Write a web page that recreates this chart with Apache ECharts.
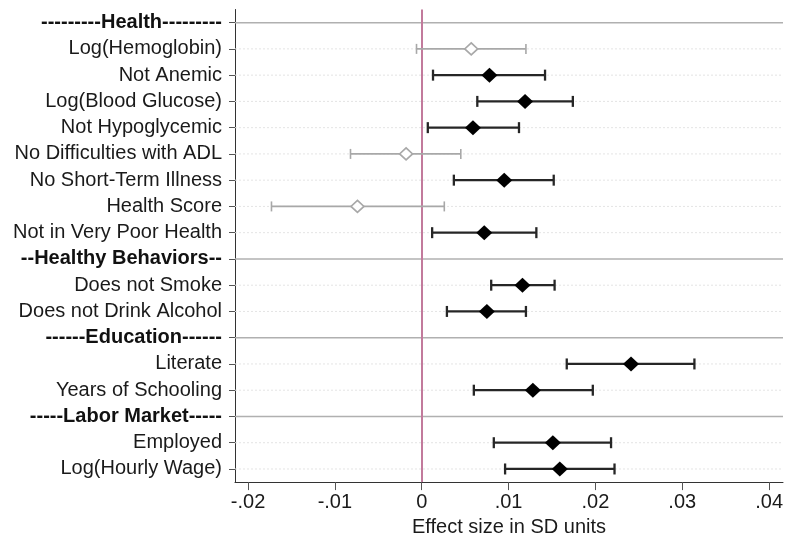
<!DOCTYPE html>
<html>
<head>
<meta charset="utf-8">
<script src="https://cdn.jsdelivr.net/npm/echarts@6/dist/echarts.min.js"></script>
<style>
html,body{margin:0;padding:0;background:#fff;}
#chart{width:792px;height:542px;}
</style>
</head>
<body>
<div id="chart"></div>
<script>
var categories = [
  '---------Health---------',
  'Log(Hemoglobin)',
  'Not Anemic',
  'Log(Blood Glucose)',
  'Not Hypoglycemic',
  'No Difficulties with ADL',
  'No Short-Term Illness',
  'Health Score',
  'Not in Very Poor Health',
  '--Healthy Behaviors--',
  'Does not Smoke',
  'Does not Drink Alcohol',
  '------Education------',
  'Literate',
  'Years of Schooling',
  '-----Labor Market-----',
  'Employed',
  'Log(Hourly Wage)'
];
var estimates = [null, 0.0057, 0.0078, 0.0119, 0.0059, -0.0018, 0.0095, -0.0074, 0.0072, null, 0.0116, 0.0075, null, 0.0241, 0.0128, null, 0.0151, 0.0159];
var lower     = [null, -0.0006, 0.0013, 0.0064, 0.0007, -0.0082, 0.0037, -0.0173, 0.0012, null, 0.0080, 0.0029, null, 0.0167, 0.0060, null, 0.0083, 0.0096];
var upper     = [null, 0.0120, 0.0142, 0.0174, 0.0112, 0.0045, 0.0152, 0.0026, 0.0132, null, 0.0153, 0.0120, null, 0.0314, 0.0197, null, 0.0218, 0.0222];
var xTicks = [-0.02, -0.01, 0, 0.01, 0.02, 0.03, 0.04];
var xTitle = 'Effect size in SD units';

var FONT = '"Liberation Sans", Arial, Helvetica, sans-serif';
var isHeader = estimates.map(function(v){ return v === null; });

var gridData = categories.map(function(c, i){ return [i, isHeader[i] ? 1 : 0]; });
var ciData = [];
var pointData = [];
categories.forEach(function(c, i){
  if (estimates[i] === null) return;
  var sig = lower[i] > 0 || upper[i] < 0;
  ciData.push([lower[i], upper[i], i, sig ? 1 : 0]);
  pointData.push({
    value: [estimates[i], i],
    symbolSize: sig ? [16, 15] : [13, 12],
    itemStyle: sig ? {color: '#000', borderWidth: 0, opacity: 1} : {color: '#fff', borderColor: '#a8a8a8', borderWidth: 1.6, opacity: 1}
  });
});

var chart = echarts.init(document.getElementById('chart'), null, {renderer: 'canvas'});
chart.setOption({
  animation: false,
  backgroundColor: '#fff',
  grid: {left: 235, right: 9, top: 9.5, bottom: 54, containLabel: false},
  xAxis: {
    type: 'value',
    min: -0.0215,
    max: 0.0416,
    splitLine: {show: false},
    axisLine: {show: true, onZero: false, lineStyle: {color: '#333', width: 1}},
    axisTick: {show: true, length: 8, customValues: xTicks, lineStyle: {color: '#555', width: 1}},
    axisLabel: {
      customValues: xTicks,
      fontFamily: FONT, fontSize: 20, color: '#1a1a1a', margin: 10,
      formatter: function(v){
        if (Math.abs(v) < 1e-9) return '0';
        return v.toFixed(2).replace('0.', '.');
      }
    },
    name: xTitle,
    nameLocation: 'middle',
    nameGap: 28,
    nameTextStyle: {fontFamily: FONT, fontSize: 20, color: '#1a1a1a', verticalAlign: 'top'}
  },
  yAxis: {
    type: 'category',
    data: categories,
    inverse: true,
    axisLine: {show: true, onZero: false, lineStyle: {color: '#333', width: 1}},
    axisTick: {show: true, alignWithLabel: true, length: 6, lineStyle: {color: '#555'}},
    splitLine: {show: false},
    axisLabel: {
      fontFamily: FONT, fontSize: 20, color: '#1a1a1a', margin: 13,
      formatter: function(v){
        var i = categories.indexOf(v);
        return isHeader[i] ? '{h|' + v + '}' : v;
      },
      rich: {h: {fontFamily: FONT, fontSize: 20, fontWeight: 'bold', color: '#111'}}
    }
  },
  series: [
    {
      type: 'custom',
      silent: true,
      z: 1,
      data: gridData,
      encode: {y: 0},
      renderItem: function(params, api){
        var idx = api.value(0);
        var head = api.value(1) === 1;
        var cs = params.coordSys;
        var y = api.coord([0, idx])[1];
        return {
          type: 'line',
          shape: {x1: cs.x, y1: y, x2: cs.x + cs.width, y2: y},
          style: head ? {stroke: '#b0b0b0', lineWidth: 1.5} : {stroke: '#e4e4e4', lineWidth: 1, lineDash: [2, 2]}
        };
      },
      markLine: {
        silent: true,
        symbol: 'none',
        label: {show: false},
        lineStyle: {color: '#c27a9c', width: 2, type: 'solid'},
        data: [{xAxis: 0}],
        z: 2
      }
    },
    {
      type: 'custom',
      silent: true,
      z: 3,
      data: ciData,
      encode: {x: [0, 1], y: 2},
      renderItem: function(params, api){
        var lo = api.coord([api.value(0), api.value(2)]);
        var hi = api.coord([api.value(1), api.value(2)]);
        var sig = api.value(3) === 1;
        var col = sig ? '#262626' : '#a8a8a8';
        var lw = sig ? 2.3 : 1.6;
        var cap = sig ? 5.5 : 5;
        var st = {stroke: col, lineWidth: lw};
        return {
          type: 'group',
          children: [
            {type: 'line', shape: {x1: lo[0], y1: lo[1], x2: hi[0], y2: hi[1]}, style: st},
            {type: 'line', shape: {x1: lo[0], y1: lo[1] - cap, x2: lo[0], y2: lo[1] + cap}, style: st},
            {type: 'line', shape: {x1: hi[0], y1: hi[1] - cap, x2: hi[0], y2: hi[1] + cap}, style: st}
          ]
        };
      }
    },
    {
      type: 'scatter',
      silent: true,
      z: 4,
      symbol: 'diamond',
      itemStyle: {opacity: 1},
      data: pointData
    }
  ]
});
</script>
</body>
</html>
